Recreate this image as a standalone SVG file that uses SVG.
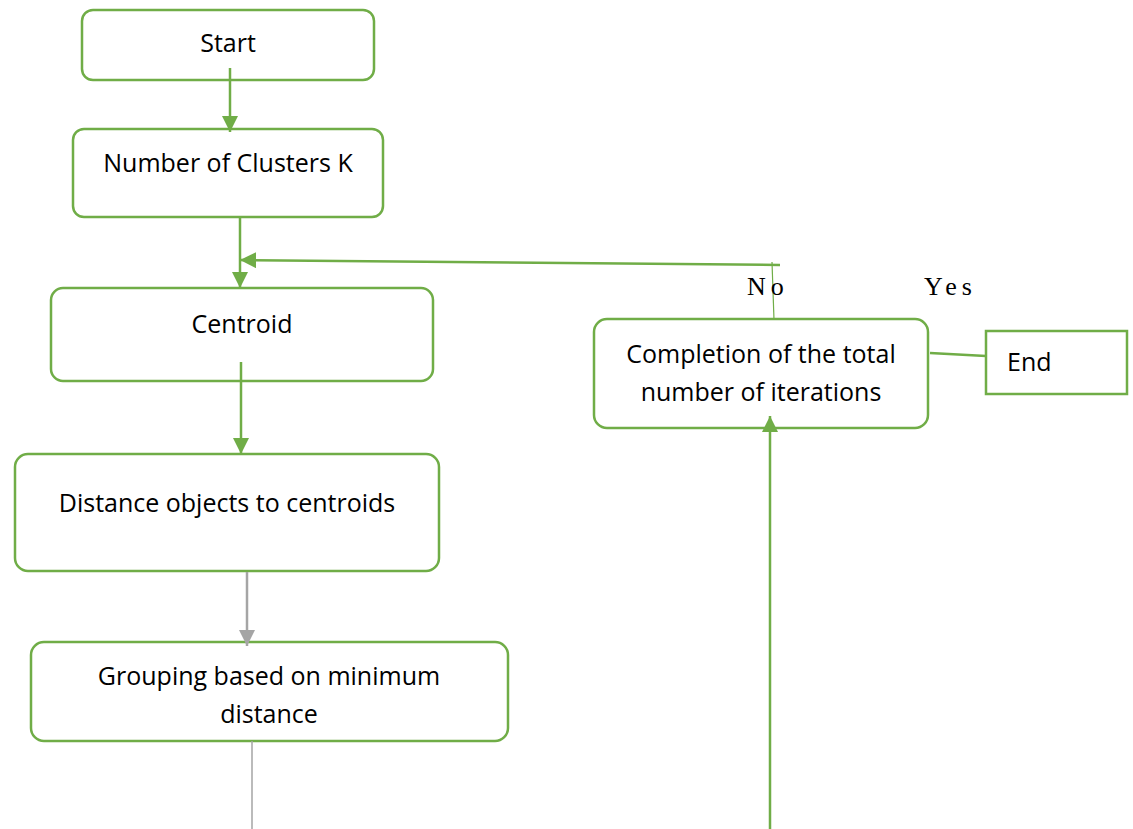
<svg xmlns="http://www.w3.org/2000/svg" width="1133" height="829" viewBox="0 0 1133 829">
<style>
.box{fill:#fff;stroke:#70AD47;stroke-width:2.5}
.t{font-family:"Open Sans","Liberation Sans",sans-serif;font-size:25px;fill:#000;text-anchor:middle}
.g{stroke:#70AD47;stroke-width:2.5;fill:none}
.gr{stroke:#A5A5A5;stroke-width:2.5;fill:none}
.m{font-family:"Liberation Serif","DejaVu Serif",serif;font-size:26px;fill:#000;letter-spacing:5px}
</style>
<defs>
<marker id="ag" viewBox="0 0 10 10" refX="10" refY="5" markerWidth="6.5" markerHeight="6.5" markerUnits="strokeWidth" orient="auto"><path d="M0,0 L10,5 L0,10 z" fill="#70AD47"/></marker>
<marker id="agr" viewBox="0 0 10 10" refX="10" refY="5" markerWidth="6.5" markerHeight="6.5" markerUnits="strokeWidth" orient="auto"><path d="M0,0 L10,5 L0,10 z" fill="#A5A5A5"/></marker>
</defs>
<g id="start"><rect class="box" x="82" y="10" width="292" height="70" rx="11"/><text class="t" x="228" y="52">Start</text></g>
<g id="clusters"><rect class="box" x="73" y="129" width="310" height="88" rx="11"/><text class="t" x="228" y="172">Number of Clusters K</text></g>
<g id="centroid"><rect class="box" x="51" y="288" width="382" height="93" rx="12"/><text class="t" x="242" y="333">Centroid</text></g>
<g id="distance"><rect class="box" x="15" y="454" width="424" height="117" rx="13"/><text class="t" x="227" y="512">Distance objects to centroids</text></g>
<g id="grouping"><rect class="box" x="31" y="642" width="477" height="99" rx="13"/><text class="t" x="269" y="685">Grouping based on minimum</text><text class="t" x="269" y="723">distance</text></g>
<g id="completion"><rect class="box" x="594" y="319" width="334" height="109" rx="13"/><text class="t" x="761" y="363">Completion of the total</text><text class="t" x="761" y="401">number of iterations</text></g>
<g id="end"><rect class="box" x="986" y="331" width="141" height="63"/><text class="t" x="1007" y="371" style="text-anchor:start">End</text></g>
<g id="connectors">
<line class="g" x1="230" y1="68" x2="230" y2="132" marker-end="url(#ag)"/>
<line class="g" x1="240" y1="217" x2="240" y2="288" marker-end="url(#ag)"/>
<line class="g" x1="780" y1="265" x2="240" y2="260" marker-end="url(#ag)"/>
<line stroke="#70AD47" stroke-width="1.2" x1="772" y1="262" x2="774" y2="320"/>
<line class="g" x1="241" y1="362" x2="241" y2="454" marker-end="url(#ag)"/>
<line class="gr" x1="247" y1="572" x2="247" y2="646" marker-end="url(#agr)"/>
<line stroke="#A5A5A5" stroke-width="1.5" x1="252" y1="741" x2="252" y2="829"/>
<line class="g" x1="770" y1="829" x2="770" y2="416" marker-end="url(#ag)"/>
<line class="g" x1="930" y1="353" x2="986" y2="356"/>
</g>
<g id="labels"><text class="m" x="747" y="295">No</text><text class="m" x="924" y="295">Yes</text></g>
</svg>
